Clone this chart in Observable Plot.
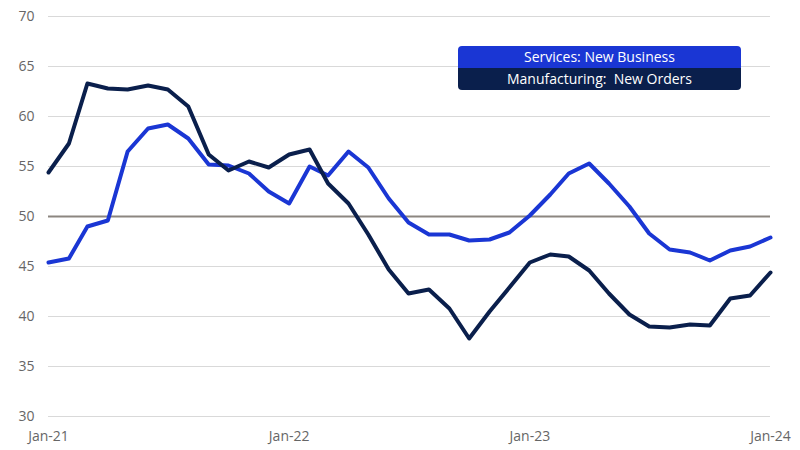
<!DOCTYPE html>
<html>
<head>
<meta charset="utf-8">
<script src="https://cdn.jsdelivr.net/npm/d3@7"></script>
<script src="https://cdn.jsdelivr.net/npm/@observablehq/plot@0.6"></script>
<style>
  html, body { margin: 0; padding: 0; background: #fff; }
  #wrap { position: relative; width: 800px; height: 450px; font-family: "Open Sans", sans-serif; }
  .leg { position: absolute; left: 458px; width: 283px; height: 22px; line-height: 22px; color: #fff; text-align: center; font-size: 14px; white-space: pre; }
</style>
</head>
<body>
<div id="wrap"></div>
<script>
const months = d3.timeMonths(new Date(2021, 0, 1), new Date(2024, 0, 2));
const servicesNewBusiness = [
  45.4, 45.8, 49.0, 49.6, 56.5, 58.8, 59.2, 57.8, 55.2, 55.1, 54.3, 52.5,
  51.3, 55.0, 54.1, 56.5, 54.9, 51.8, 49.4, 48.2, 48.2, 47.6, 47.7, 48.4,
  50.1, 52.2, 54.3, 55.3, 53.3, 51.0, 48.3, 46.7, 46.4, 45.6, 46.6, 47.0,
  47.9
];
const manufacturingNewOrders = [
  54.4, 57.3, 63.3, 62.8, 62.7, 63.1, 62.7, 61.0, 56.2, 54.6, 55.5, 54.9,
  56.2, 56.7, 53.3, 51.3, 48.2, 44.7, 42.3, 42.7, 40.8, 37.8, 40.5, 42.9,
  45.4, 46.2, 46.0, 44.6, 42.3, 40.2, 39.0, 38.9, 39.2, 39.1, 41.8, 42.1,
  44.4
];
const seriesNames = ["Services: New Business", "Manufacturing:  New Orders"];
const seriesColors = ["#1a36d4", "#0a1f4c"];
const yTicks = [30, 35, 40, 45, 50, 55, 60, 65, 70];
const xTicks = [new Date(2021,0,1), new Date(2022,0,1), new Date(2023,0,1), new Date(2024,0,1)];

const data = [];
months.forEach((d, i) => {
  data.push({date: d, value: servicesNewBusiness[i], series: seriesNames[0]});
  data.push({date: d, value: manufacturingNewOrders[i], series: seriesNames[1]});
});

const fmt = d3.timeFormat("%b-%y");

const chart = Plot.plot({
  width: 800,
  height: 450,
  marginLeft: 48,
  marginRight: 30,
  marginTop: 16,
  marginBottom: 34,
  style: { fontFamily: "Open Sans, sans-serif", fontSize: "14px", color: "#666" },
  x: { type: "time", domain: [new Date(2021,0,1), new Date(2024,0,1)], ticks: xTicks, tickFormat: fmt, tickSize: 0, tickPadding: 15, label: null },
  y: { domain: [30, 70], ticks: yTicks, tickSize: 0, tickPadding: 14, label: null },
  color: { domain: seriesNames, range: seriesColors },
  marks: [
    Plot.ruleY(yTicks.filter(t => t !== 50), { stroke: "#d9d9d9", strokeWidth: 1 }),
    Plot.ruleY([50], { stroke: "#8c8680", strokeWidth: 2 }),
    Plot.axisY({ ticks: yTicks, tickSize: 0, tickPadding: 14, fill: "#666", fontSize: 14 }),
    Plot.axisX({ ticks: xTicks, tickFormat: fmt, tickSize: 0, tickPadding: 15, fill: "#666", fontSize: 14 }),
    Plot.line(data, { x: "date", y: "value", z: "series", stroke: "series", strokeWidth: 4, strokeLinejoin: "round" })
  ]
});
const wrap = document.getElementById("wrap");
wrap.appendChild(chart);

seriesNames.forEach((name, i) => {
  const d = document.createElement("div");
  d.className = "leg";
  d.style.top = (46 + i * 22) + "px";
  d.style.background = seriesColors[i];
  d.style.borderRadius = i === 0 ? "4px 4px 0 0" : "0 0 4px 4px";
  d.textContent = name;
  wrap.appendChild(d);
});
</script>
</body>
</html>
